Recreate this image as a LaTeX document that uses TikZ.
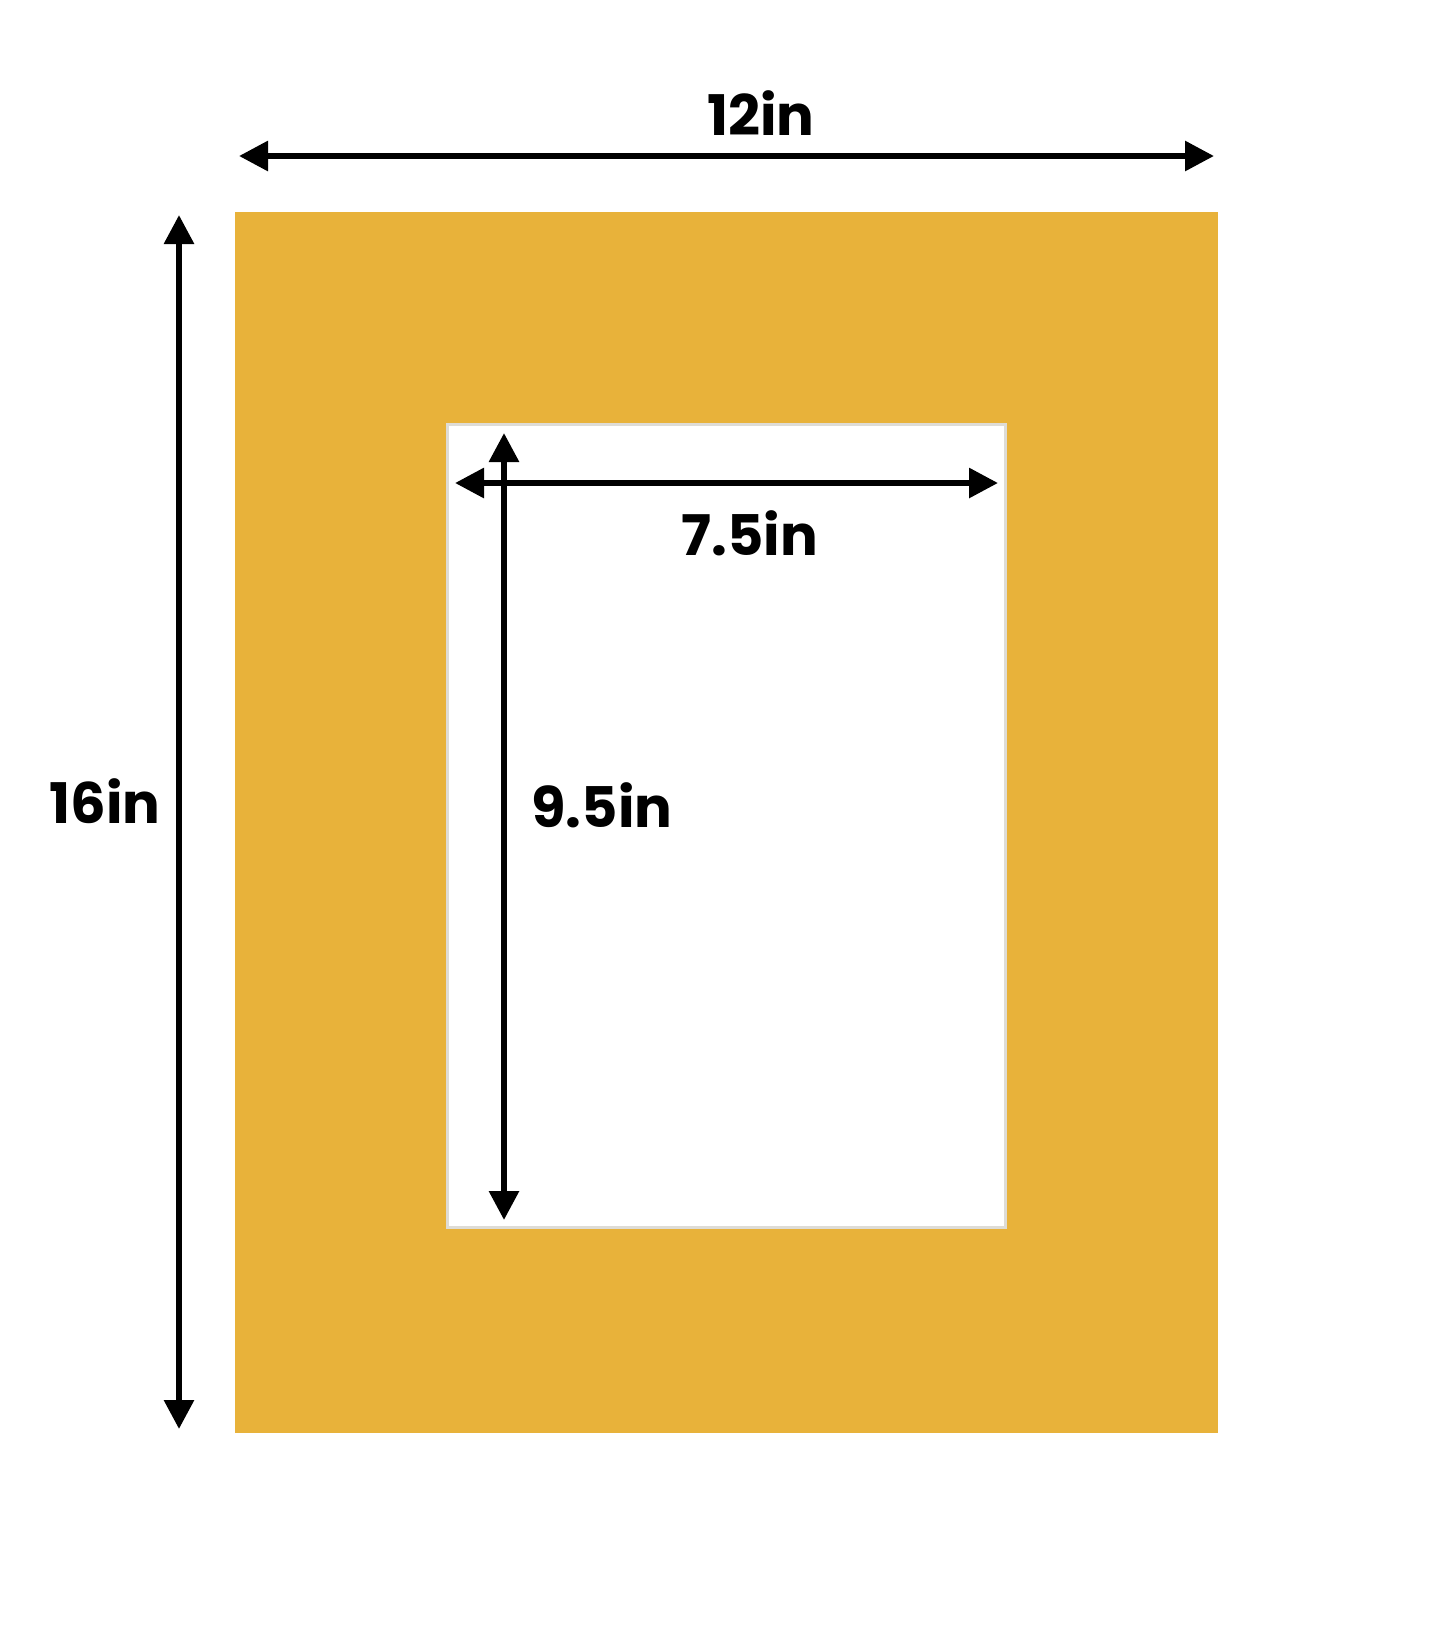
\documentclass[tikz,border=0pt]{standalone}
\usepackage{fontspec}
\setmainfont{Poppins}[BoldFont={* Bold}]
\usepackage{xcolor}
\usetikzlibrary{positioning,arrows.meta}

\definecolor{matgold}{RGB}{232,178,58}
\definecolor{bevel}{RGB}{222,220,214}

\tikzset{
    dimline/.style={line width=3pt, {Triangle[length=14.5pt,width=14.5pt]}-{Triangle[length=14.5pt,width=14.5pt]}},
    dimlabel/.style={font=\fontsize{28}{31}\selectfont\bfseries, inner sep=0pt, anchor=base}
}

\begin{document}
\begin{tikzpicture}[x=0.5pt, y=-0.5pt]

\useasboundingbox[fill=white] (0,0) rectangle (1445,1645);

% ===========================
% Mat board and window
% ===========================
\fill[matgold] (235,212) rectangle (1218,1433);
\fill[white, draw=bevel, line width=1.5pt] (447,424) rectangle (1005,1227);

% ===========================
% Outer dimensions
% ===========================
\coordinate (wl) at (239,156);
\coordinate (wr) at (1214,156);
\draw[dimline] (wl) -- (wr);
\node[dimlabel] (width) at (761,135) {12in};

\coordinate (ht) at (179,215);
\coordinate (hb) at (179,1429);
\draw[dimline] (ht) -- (hb);
\node[dimlabel] (height) at (105,823) {16in};

% ===========================
% Window dimensions
% ===========================
\coordinate (iwl) at (455,483);
\coordinate (iwr) at (998,483);
\draw[dimline] (iwl) -- (iwr);
\node[dimlabel] (innerwidth) at (750,555) {7.5in};

\coordinate (iht) at (504,433);
\coordinate (ihb) at (504,1220);
\draw[dimline] (iht) -- (ihb);
\node[dimlabel] (innerheight) at (602,827) {9.5in};

\end{tikzpicture}
\end{document}
